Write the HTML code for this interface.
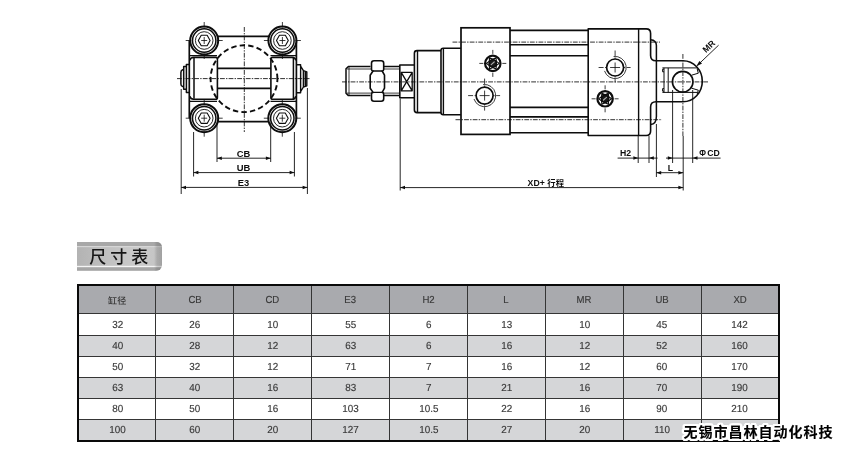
<!DOCTYPE html>
<html lang="zh-CN">
<head>
<meta charset="utf-8">
<title>尺寸表</title>
<style>
html,body{margin:0;padding:0;background:#fff;}
body{width:850px;height:454px;overflow:hidden;font-family:"Liberation Sans","Noto Sans CJK SC",sans-serif;}
.page{position:relative;width:850px;height:454px;overflow:hidden;background:#fff;will-change:transform;}
svg.draw{position:absolute;left:0;top:0;}
.badge{position:absolute;left:77px;top:242px;width:85px;height:29px;border-radius:0 5px 6px 0;
  background:
   linear-gradient(to right,rgba(0,0,0,0) 0,rgba(0,0,0,0) 77px,rgba(80,80,80,.22) 80px,rgba(80,80,80,.3) 100%),
   linear-gradient(to bottom,#a8a8a8 0,#a8a8a8 3.6px,#d6d6d6 4.2px,#d6d6d6 5px,rgba(0,0,0,0) 5.6px,rgba(0,0,0,0) 23.4px,#f4f4f4 24px,#f4f4f4 25px,#a9a9a9 25.6px,#a4a4a4 28px,#c8c8c8 100%),
   linear-gradient(to right,#b3b3b3 0,#c2c2c2 40%,#cacaca 70%,#c4c4c4 100%);
}
.badge span{position:absolute;left:12.3px;top:6px;font-family:"Liberation Sans","Noto Sans CJK SC",sans-serif;font-size:17px;font-weight:500;line-height:20px;letter-spacing:4px;color:#161616;white-space:nowrap;}
table.dim{text-rendering:geometricPrecision;position:absolute;left:77px;top:284px;width:703px;border-collapse:collapse;table-layout:fixed;border:2px solid #0a0a0a;}
table.dim th,table.dim td{border:1px solid #353535;padding:0;text-align:center;font-weight:normal;color:#383838;font-size:10.5px;overflow:hidden;}
table.dim th{height:27px;background:#a9aaae;font-size:10.2px;}
table.dim td{height:20px;font-size:10.2px;}
table.dim tbody tr:first-child td{height:21px;}
table.dim tbody tr:nth-child(odd) td{background:#fff;}
table.dim tbody tr:nth-child(even) td{background:#d5d6d8;}
table.dim span{display:inline-block;transform:scaleX(.94);position:relative;top:1.2px;left:0;-webkit-text-stroke:.15px #383838;}
table.dim td span{transform:scaleX(.97);top:.8px;}
table.dim th.cjk{font-size:9.1px;font-weight:500;}
table.dim th.cjk span{transform:none;top:.3px;left:0;-webkit-text-stroke:0;}
.wm{position:absolute;left:683.6px;top:422.3px;font-family:"Liberation Sans","Noto Sans CJK SC",sans-serif;font-weight:bold;font-size:14px;line-height:20px;letter-spacing:1px;-webkit-text-stroke:.12px #000;color:#000;white-space:nowrap;
 text-shadow:1.00px 0.00px 0 #fff,0.71px 0.71px 0 #fff,0.00px 1.00px 0 #fff,-0.71px 0.71px 0 #fff,-1.00px 0.00px 0 #fff,-0.71px -0.71px 0 #fff,-0.00px -1.00px 0 #fff,0.71px -0.71px 0 #fff,1.80px 0.00px 0 #fff,1.56px 0.90px 0 #fff,0.90px 1.56px 0 #fff,0.00px 1.80px 0 #fff,-0.90px 1.56px 0 #fff,-1.56px 0.90px 0 #fff,-1.80px 0.00px 0 #fff,-1.56px -0.90px 0 #fff,-0.90px -1.56px 0 #fff,-0.00px -1.80px 0 #fff,0.90px -1.56px 0 #fff,1.56px -0.90px 0 #fff,2.40px 0.00px 0 #fff,2.22px 0.92px 0 #fff,1.70px 1.70px 0 #fff,0.92px 2.22px 0 #fff,0.00px 2.40px 0 #fff,-0.92px 2.22px 0 #fff,-1.70px 1.70px 0 #fff,-2.22px 0.92px 0 #fff,-2.40px 0.00px 0 #fff,-2.22px -0.92px 0 #fff,-1.70px -1.70px 0 #fff,-0.92px -2.22px 0 #fff,-0.00px -2.40px 0 #fff,0.92px -2.22px 0 #fff,1.70px -1.70px 0 #fff,2.22px -0.92px 0 #fff;}

</style>
</head>
<body>
<div class="page">
<svg class="draw" width="850" height="225" viewBox="0 0 850 225" font-family="'Liberation Sans','Noto Sans CJK SC',sans-serif" font-size="8.7" font-weight="bold" fill="none" stroke="#0d0d0d" stroke-linecap="butt" stroke-linejoin="round">
<defs>
  <g id="bolt">
    <circle r="14" fill="#fff" stroke-width="2"/>
    <circle r="11.7" stroke-width="1.5"/>
    <circle r="8.8" stroke-width="0.9"/>
    <polygon points="5.9,0 2.95,5.2 -2.95,5.2 -5.9,0 -2.95,-5.2 2.95,-5.2" stroke-width="1.1"/>
    <path d="M-18.5,0H-13M13,0H18.5M0,-18.5V-13M0,13V18.5M-3,0H3M0,-3.5V3.5" stroke-width="0.8"/>
  </g>
  <g id="port">
    <circle r="8.5" fill="#fff" stroke-width="1.7"/>
    <path d="M-1.5,-11A11.1,11.1 0 1 1 -10.6,3.4" stroke-width="0.8"/>
    <path d="M-16.5,0H-11.5M-10,0H-8.8M-5,0H5M8.8,0H10M11.5,0H15.5M0,-17V-11.5M0,-10V-8.8M0,-5V5M0,8.8V10M0,11.5V15" stroke-width="0.8"/>
  </g>
  <g id="cush">
    <circle r="7.7" fill="#fff" stroke-width="2.2"/>
    <polygon points="6.4,0 1.9,3.3 -3.2,5.55 -3.8,0 -3.2,-5.55 1.9,-3.3" stroke-width="1.1"/>
    <polygon points="-6.4,0 -1.9,-3.3 3.2,-5.55 3.8,0 3.2,5.55 -1.9,3.3" stroke-width="1.1"/>
    <circle r="3.5" fill="#1a1a1a" stroke-width="1.2"/>
    <path d="M-1.6,1.2L1.4,-1.4" stroke="#aaa" stroke-width="1.2" stroke-linecap="round"/>
    <path d="M-13.5,0H-9.5M9.5,0H13.5M0,-13.5V-9.5M0,9.5V13.5" stroke-width="0.8"/>
  </g>
  <path id="arR" d="M0,0L-4.8,-1.75V1.75Z" fill="#0d0d0d" stroke="none"/>
  <path id="arL" d="M0,0L4.8,-1.75V1.75Z" fill="#0d0d0d" stroke="none"/>
</defs>

<!-- ============ END VIEW ============ -->
<g id="endview">
  <!-- body -->
  <path d="M189.3,40.5V118.2M296.4,40.5V118.2M217,36.3H270M217,121.7H270" stroke-width="1.7"/>
  <use href="#bolt" x="204.2" y="40.5"/>
  <use href="#bolt" x="282.4" y="40.5"/>
  <use href="#bolt" x="204.2" y="118.2"/>
  <use href="#bolt" x="282.3" y="118.2"/>
  <!-- horizontal body lines next to bolts -->
  <path d="M190,55.6H217M270.5,55.6H296M190,101.4H217M270.5,101.4H296" stroke-width="1.1"/>
  <!-- clevis blocks -->
  <path d="M189.8,60.4Q190.6,57.4 193.6,57.4H215.7Q217.4,57.4 217.4,59.2V97.4Q217.4,99.2 215.7,99.2H193.6Q190.6,99.2 189.8,96.2" stroke-width="1.6"/>
  <path d="M295.9,60.4Q295.2,57.4 292.2,57.4H272.6Q270.9,57.4 270.9,59.2V97.4Q270.9,99.2 272.6,99.2H292.2Q295.2,99.2 295.9,96.2" stroke-width="1.6"/>
  <path d="M194,57.8V98.8M293.4,57.8V98.8" stroke-width="1.5"/>
  <!-- pin -->
  <path d="M217.2,68.3H270.9M217.2,88.4H270.9" stroke-width="1.7"/>
  <!-- pin ends (left) -->
  <path d="M189,64.4H186.4V92.4H189M186.4,66.6H183.7V89.2H186.4M183.7,69.8H182.6Q180.9,70.4 180.9,72.4V84Q180.9,86 182.6,86.5H183.7" stroke-width="1.5"/>
  <!-- pin ends (right) -->
  <path d="M297,64.8H300.6V92.8H297M300.6,66.2L303.4,70.6V87L300.6,91.6M303.4,70.6L306.8,71.8V85.8L303.4,87M305.3,71.5V86.2" stroke-width="1.4"/>
  <!-- dashed bore circle -->
  <circle cx="244" cy="78.7" r="33.4" stroke-width="1.9" stroke-dasharray="5.4 3.2" stroke-dashoffset="2"/>
  <!-- centre lines -->
  <path d="M244.3,27V132" stroke-width="0.85" stroke-dasharray="4.8 1.2 1.4 1.2"/>
  <path d="M177,78.6H309.5" stroke-width="0.85" stroke-dasharray="4.8 1.2 1.4 1.2"/>
  <!-- extension lines -->
  <path d="M181.2,89V194M307.4,88V194M193.6,132V176.5M294.4,132V176.5M217,122.5V162M270.7,122.5V162" stroke-width="0.9"/>
  <!-- dimension lines -->
  <path d="M217,158.2H270.7M193.6,172.6H294.4M181.2,187.4H307.4" stroke-width="0.9"/>
  <use href="#arL" x="217" y="158.2"/><use href="#arR" x="270.7" y="158.2"/>
  <use href="#arL" x="193.6" y="172.6"/><use href="#arR" x="294.4" y="172.6"/>
  <use href="#arL" x="181.2" y="187.4"/><use href="#arR" x="307.4" y="187.4"/>
  <g fill="#0d0d0d" stroke="none" text-anchor="middle" font-size="9.4">
    <text x="243.4" y="156.5">CB</text>
    <text x="243.4" y="170.9">UB</text>
    <text x="243.4" y="185.5">E3</text>
  </g>
</g>

<!-- ============ SIDE VIEW ============ -->
<g id="sideview">
  <!-- threaded rod end -->
  <path d="M370.5,66.5H348.4L346,68.8V93.3L348.4,95.6H370.5" stroke-width="1.5"/>
  <path d="M347,69H399.4M347,93.1H399.4M349,66.8V95.4" stroke-width="0.8"/>
  <!-- nut -->
  <path d="M374,60.8H381.2Q383.7,60.8 383.7,63.3V69.2Q383.7,70.7 382.2,71L384.5,75.2V88.2L382.2,92.4Q383.7,92.7 383.7,94.2V98.7Q383.7,101.2 381.2,101.2H374Q371.5,101.2 371.5,98.7V94.2Q371.5,92.7 373,92.4L370.2,88.2V75.2L373,71Q371.5,70.7 371.5,69.2V63.3Q371.5,60.8 374,60.8Z" fill="#fff" stroke-width="1.6"/>
  <path d="M373,71H382.2M373,92.4H382.2" stroke-width="1.4"/>
  <!-- rod -->
  <path d="M384,66.6H399.4M384,95.6H399.4" stroke-width="1.5"/>
  <!-- flats -->
  <path d="M414.4,65H399.8V97.7H414.4" stroke-width="1.6"/>
  <path d="M401.2,72.4H412.2V90.8H401.2ZM401.2,72.4L412.2,90.8M412.2,72.4L401.2,90.8" stroke-width="1.3"/>
  <!-- neck -->
  <path d="M441,50.6H417Q414.4,50.6 414.4,53.2V110Q414.4,112.6 417,112.6H441" stroke-width="1.6"/>
  <path d="M417.5,51V112.2" stroke-width="1.4"/>
  <!-- step -->
  <path d="M461,48.2H443.2Q441,48.2 441,50.4V112.6Q441,114.8 443.2,114.8H461" stroke-width="1.6"/>
  <path d="M443.4,48.6V114.4" stroke-width="1.4"/>
  <!-- front cap -->
  <rect x="461" y="27.8" width="49" height="106.6" stroke-width="1.7" stroke-linejoin="miter"/>
  <!-- tube -->
  <path d="M510,30.4H588.2M510,44.8H588.2M510,55.8H588.2M510,107.4H588.2M510,116.9H588.2M510,132.8H588.2" stroke-width="1.6"/>
  <!-- rear cap -->
  <path d="M588.2,28.9H646.2Q650.6,28.9 650.6,33.4V55.5Q650.6,60.8 656,60.8H683A19.3,20.5 0 0 1 683,101.8H656Q650.6,101.8 650.6,107V131Q650.6,135.5 646.2,135.5H588.2Z" stroke-width="1.6"/>
  <path d="M650.6,39.8Q656.4,40.3 656.4,45.5V116.5Q656.4,124 650.6,124.5" stroke-width="1.5"/>
  <path d="M638.6,28.9V135.5" stroke-width="1.4"/>
  <!-- eye -->
  <circle cx="682.7" cy="81.7" r="10.3" stroke-width="1.6"/>
  <path d="M662.4,67.9H697.4M662.4,92.4H697.4M664,67.9V92.4M668.2,67.9V92.4" stroke-width="1"/>
  <path d="M664,69.2H662.6V71.8H664M664,88.6H662.6V91.2H664" stroke-width="1"/>
  <path d="M691.6,75.2L698.3,73.2L697.2,69M691.6,88.2L698.3,90.2L697.2,94.2" stroke-width="1"/>
  <!-- ports -->
  <use href="#port" x="484.6" y="95.6"/>
  <use href="#cush" x="492.8" y="63.4"/>
  <use href="#port" x="615.1" y="67.5"/>
  <use href="#cush" x="605.1" y="98.8"/>
  <!-- centre lines -->
  <path d="M342,81.9H708" stroke-width="0.85" stroke-dasharray="4.8 1.2 1.4 1.2"/>
  <path d="M452.5,42.1H660M455.5,119.7H662" stroke-width="0.85" stroke-dasharray="4.8 1.2 1.4 1.2"/>
  <path d="M682.9,54V136" stroke-width="0.85" stroke-dasharray="4.8 1.2 1.4 1.2"/>
  <!-- extension lines -->
  <path d="M400.2,98.5V190.5M683.2,136V190.5M638.2,136V163M649,136V163M656.4,124V177M672.6,90V163M692.7,90V163" stroke-width="0.9"/>
  <!-- dimension lines -->
  <path d="M400.2,187.6H683.2M656.4,172.7H683.2M617.6,158.1H657.6M666,158.1H720.6" stroke-width="0.9"/>
  <use href="#arL" x="400.2" y="187.6"/><use href="#arR" x="683.2" y="187.6"/>
  <use href="#arL" x="656.4" y="172.7"/><use href="#arR" x="683.2" y="172.7"/>
  <use href="#arR" x="638.2" y="158.1"/><use href="#arL" x="649" y="158.1"/>
  <use href="#arR" x="672.6" y="158.1"/><use href="#arL" x="692.7" y="158.1"/>
  <!-- MR leader -->
  <path d="M718.6,45.2L697.6,65.2" stroke-width="0.9"/>
  <path d="M696.2,66.4L699.4,61L702,63.6Z" fill="#0d0d0d" stroke="none"/>
  <g fill="#0d0d0d" stroke="none">
    <text x="620" y="156.1">H2</text>
    <text x="670.3" y="170.6" text-anchor="middle">L</text>
    <text x="699.3" y="156.1"><tspan font-size="8.2">Φ</tspan><tspan dx="1.2">CD</tspan></text>
    <text x="527.6" y="185.8">XD+<tspan dx="2.6" font-size="8.3">行程</tspan></text>
    <text x="0" y="0" transform="translate(706,53.2) rotate(-43.5)">MR</text>
  </g>
</g>
</svg>

<div class="badge"><span>尺寸表</span></div>
<table class="dim">
<thead><tr>
<th class="cjk"><span>缸径</span></th>
<th><span>CB</span></th>
<th><span>CD</span></th>
<th><span>E3</span></th>
<th><span>H2</span></th>
<th><span>L</span></th>
<th><span>MR</span></th>
<th><span>UB</span></th>
<th><span>XD</span></th>
</tr></thead><tbody>
<tr><td><span>32</span></td><td><span>26</span></td><td><span>10</span></td><td><span>55</span></td><td><span>6</span></td><td><span>13</span></td><td><span>10</span></td><td><span>45</span></td><td><span>142</span></td></tr>
<tr><td><span>40</span></td><td><span>28</span></td><td><span>12</span></td><td><span>63</span></td><td><span>6</span></td><td><span>16</span></td><td><span>12</span></td><td><span>52</span></td><td><span>160</span></td></tr>
<tr><td><span>50</span></td><td><span>32</span></td><td><span>12</span></td><td><span>71</span></td><td><span>7</span></td><td><span>16</span></td><td><span>12</span></td><td><span>60</span></td><td><span>170</span></td></tr>
<tr><td><span>63</span></td><td><span>40</span></td><td><span>16</span></td><td><span>83</span></td><td><span>7</span></td><td><span>21</span></td><td><span>16</span></td><td><span>70</span></td><td><span>190</span></td></tr>
<tr><td><span>80</span></td><td><span>50</span></td><td><span>16</span></td><td><span>103</span></td><td><span>10.5</span></td><td><span>22</span></td><td><span>16</span></td><td><span>90</span></td><td><span>210</span></td></tr>
<tr><td><span>100</span></td><td><span>60</span></td><td><span>20</span></td><td><span>127</span></td><td><span>10.5</span></td><td><span>27</span></td><td><span>20</span></td><td><span>110</span></td><td><span></span></td></tr>
</tbody></table>
<div class="wm">无锡市昌林自动化科技</div>
</div>
</body>
</html>
